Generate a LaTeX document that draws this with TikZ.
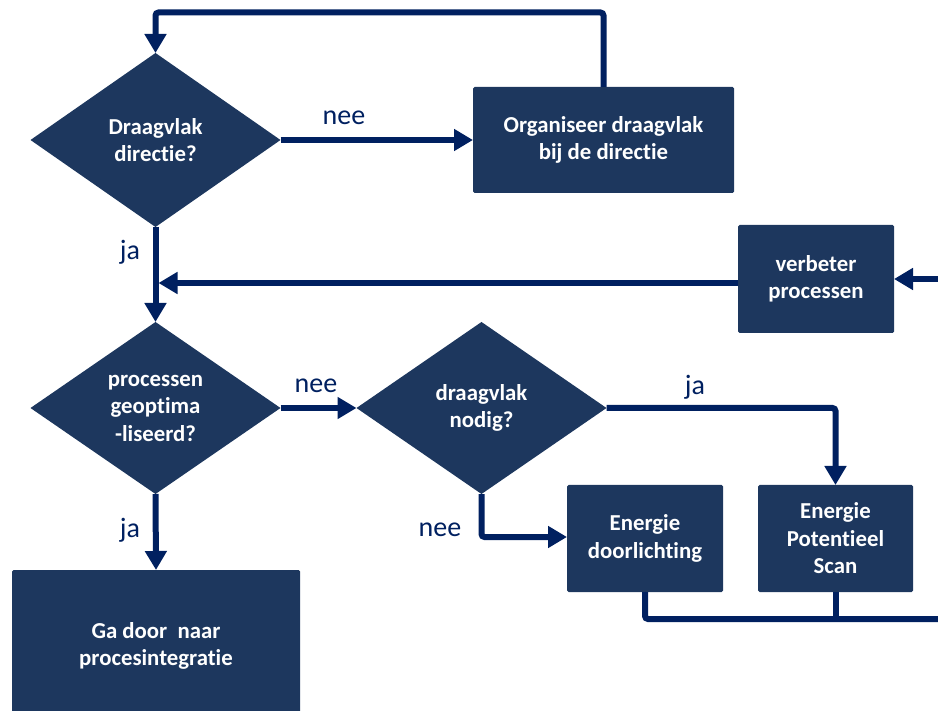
\documentclass[tikz,border=0pt]{standalone}
\usepackage{fontspec}
\setmainfont{Carlito}[Ligatures={NoCommon,NoRequired,NoContextual}]
\usetikzlibrary{shapes.geometric,arrows.meta}
\definecolor{boxfill}{HTML}{1D375E}
\definecolor{flowblue}{HTML}{002060}
\tikzset{
  block/.style={fill=boxfill, text=white, font=\fontsize{22.8}{27.5}\selectfont\bfseries,
    align=center, inner sep=0pt, outer sep=0pt, rounded corners=1.5pt},
  decision/.style={diamond, fill=boxfill, text=white, font=\fontsize{22.8}{27.5}\selectfont\bfseries,
    align=center, inner sep=0pt, outer sep=0pt},
  flow/.style={draw=flowblue, line width=6pt, rounded corners=3pt},
  arrowed/.style={-{Triangle[length=19pt,width=21pt]}},
  lbl/.style={text=flowblue, font=\fontsize{28}{30}\selectfont, inner sep=0pt}
}
\begin{document}
\begin{tikzpicture}[x=1pt,y=-1pt]
\useasboundingbox (0,0) rectangle (938,711);

% decisions
\node[decision, minimum width=250pt, minimum height=174pt] (d1) at (155.5,140) {Draagvlak\\directie?};
\node[decision, minimum width=250pt, minimum height=172pt] (d2) at (155.5,408) {processen\\geoptima\\-liseerd?};
\node[decision, minimum width=250pt, minimum height=172pt] (d3) at (481.5,408) {draagvlak\\nodig?};

% actions
\node[block, minimum width=261pt, minimum height=106pt] (org) at (603.5,140) {Organiseer draagvlak\\bij de directie};
\node[block, minimum width=156pt, minimum height=108pt] (verb) at (816,279) {verbeter\\processen};
\node[block, minimum width=156pt, minimum height=107pt] (door) at (645,538.5) {Energie\\doorlichting};
\node[block, minimum width=155pt, minimum height=107pt] (scan) at (835.5,538.5) {Energie\\Potentieel\\Scan};
\node[block, minimum width=288pt, minimum height=152pt] (ga) at (156,646) {Ga door\ \ naar\\procesintegratie};

% helper points
\coordinate (loop) at (380,12.5);
\coordinate (merge) at (158.5,283);
\coordinate (inR) at (938,279);
\coordinate (outR) at (938,619);
\coordinate (bend) at (481.5,537);

% connectors
\draw[flow, arrowed] (org.north) |- (loop) -| (d1.north);
\draw[flow, arrowed] (d1.east) -- (org.west);
\draw[flow, arrowed] (d1.south) -- (d2.north);
\draw[flow, arrowed] ([yshift=-4pt]verb.west) -- (merge);
\draw[flow, arrowed] (inR) -- (verb.east);
\draw[flow, arrowed] (d2.east) -- (d3.west);
\draw[flow, arrowed] (d3.east) -| (scan.north);
\draw[flow, arrowed] (d3.south) -- (bend) -- (door.west |- bend);
\draw[flow, arrowed] (d2.south) -- (ga.north);
\draw[flow] (door.south) |- (outR);
\draw[flow] (scan.south) -- (scan.south |- outR);

% branch labels
\node[lbl] (l1) at (344,118) {nee};
\node[lbl] (l2) at (130,252) {ja};
\node[lbl] (l3) at (316,386) {nee};
\node[lbl] (l4) at (695,387) {ja};
\node[lbl] (l5) at (440,530) {nee};
\node[lbl] (l6) at (130,530) {ja};
\end{tikzpicture}
\end{document}
